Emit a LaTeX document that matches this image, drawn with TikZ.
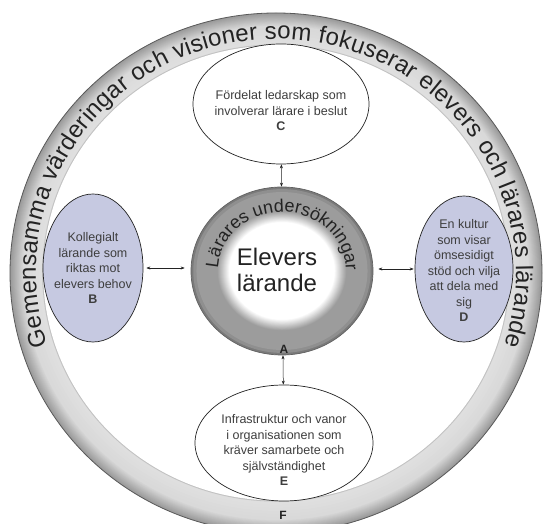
\documentclass[tikz,border=0pt]{standalone}
\usepackage{fontspec}
\setmainfont{Liberation Sans}
\usetikzlibrary{shapes.geometric, arrows.meta, decorations.text}
\definecolor{lav}{RGB}{198,201,225}
\definecolor{ink}{RGB}{35,35,35}
\definecolor{txtc}{RGB}{62,62,62}
\begin{document}
\begin{tikzpicture}[x=1pt,y=1pt,
  bubble/.style={ellipse, draw=ink, line width=0.7pt, inner sep=0pt},
  btxt/.style={text=txtc, align=center, font=\fontsize{12.5}{15.5}\selectfont, inner sep=0pt},
  conn/.style={draw=ink, line width=0.5pt, {Stealth[length=4pt,width=3pt]}-{Stealth[length=4pt,width=3pt]}},
  letter/.style={font=\fontsize{12}{12}\selectfont\bfseries, text=ink, inner sep=0pt}]
\useasboundingbox (0,0) rectangle (546,524);
% ---------- outer ring F ----------
\coordinate (Fc) at (276,251);
\foreach \i in {0,...,14}{
  \pgfmathsetmacro\f{1-0.05*\i/14}
  \pgfmathsetmacro\c{40-25*\i/14}
  \fill[black!\c] (Fc) ellipse[x radius=266*\f, y radius=260*\f];
}
\foreach \i in {0,...,6}{
  \pgfmathsetmacro\f{0.95-0.07*\i/6}
  \pgfmathsetmacro\c{15-3*\i/6}
  \fill[black!\c] (Fc) ellipse[x radius=266*\f, y radius=260*\f];
}
\fill[black!24] (Fc) ellipse[x radius=266*0.879, y radius=260*0.879];
\fill[white] (Fc) ellipse[x radius=266*0.875, y radius=260*0.875];
\node[ellipse, minimum width=532, minimum height=520, inner sep=0pt, draw=black!65, line width=0.8pt] (F) at (Fc) {};
\path[decorate, decoration={text along path, text align=fit to path,
  text={|\fontsize{24}{24}\selectfont\color{ink}|Gemensamma värderingar och visioner som fokuserar elevers och lärares lärande}}]
  (F.center) ++(198:240 and 234) arc[start angle=198, end angle=-18, x radius=240, y radius=234];
\node[letter] (Flabel) at (283,9) {F};
% ---------- inner ring A ----------
\coordinate (Ac) at (282,253);
\fill[black!52] (Ac) ellipse[x radius=91, y radius=84];
\fill[black!44] (Ac) ellipse[x radius=91*0.975, y radius=84*0.975];
\fill[black!39] (Ac) ellipse[x radius=91*0.94, y radius=84*0.94];
\foreach \i in {0,...,24}{
  \pgfmathsetmacro\f{0.71-0.13*\i/24}
  \pgfmathsetmacro\c{38*(1-\i/24)}
  \fill[black!\c] (Ac) ellipse[x radius=91*\f, y radius=84*\f];
}
\node[ellipse, minimum width=182, minimum height=168, inner sep=0pt, draw=black!62, line width=0.7pt] (A) at (Ac) {};
\path[decorate, decoration={text along path, text align=center,
  text={|\fontsize{18}{18}\selectfont\color{ink}|Lärares undersökningar}}]
  (A.center) ++(188:64 and 59) arc[start angle=188, end angle=-10, x radius=64, y radius=59];
\node[font=\fontsize{24}{26}\selectfont, text=ink, align=center, inner sep=0pt] (Atext) at (277,254) {Elevers\\lärande};
\node[letter] (Alabel) at (284,175) {A};
% ---------- C ----------
\node[bubble, fill=white, minimum width=176, minimum height=120] (C) at (281,420) {};
\node[btxt] (Ctext) at (281,413) {Fördelat ledarskap som\\involverar lärare i beslut\\\textbf{C}};
% ---------- B ----------
\node[bubble, fill=lav, minimum width=100, minimum height=148] (B) at (93,256) {};
\node[btxt] (Btext) at (93,256) {Kollegialt\\lärande som\\riktas mot\\elevers behov\\\textbf{B}};
% ---------- D ----------
\node[bubble, fill=lav, minimum width=98, minimum height=146] (D) at (464,255) {};
\node[btxt] (Dtext) at (464,253.5) {En kultur\\som visar\\ömsesidigt\\stöd och vilja\\att dela med\\sig\\\textbf{D}};
% ---------- E ----------
\node[bubble, fill=white, minimum width=178, minimum height=116] (E) at (284,81) {};
\node[btxt] (Etext) at (284,74) {Infrastruktur och vanor\\i organisationen som\\kräver samarbete och\\självständighet\\\textbf{E}};
% ---------- connectors ----------
\draw[conn] (C) -- (A);
\draw[conn] (A) -- (E);
\draw[conn, shorten <=3pt, shorten >=6pt] (B.east) -- (B.east -| A.west);
\draw[conn, shorten <=5pt, shorten >=1pt] (A.east |- D.west) -- (D.west);
\end{tikzpicture}
\end{document}
